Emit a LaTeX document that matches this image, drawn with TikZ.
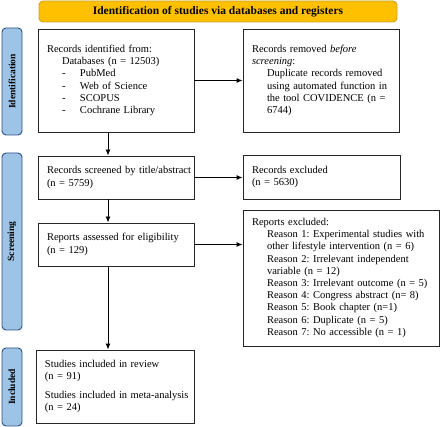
\documentclass[tikz,border=0pt]{standalone}
\usepackage{xcolor}
\usepackage{fontspec}
\setmainfont{Liberation Serif}
\usepackage{tikz}
\usetikzlibrary{arrows.meta}
\definecolor{BarFill}{HTML}{FFC000}
\definecolor{BarEdge}{HTML}{C9A227}
\definecolor{PhaseFill}{HTML}{9DC3E6}
\definecolor{PhaseEdge}{HTML}{2F4F7F}
\frenchspacing
\tikzset{
  recbox/.style={draw=black!85, line width=0.9pt, align=left, inner xsep=9pt, inner ysep=3pt, font=\fontsize{10.5}{12.2}\selectfont},
  phase/.style={draw=PhaseEdge, fill=PhaseFill, line width=0.9pt, rounded corners=4pt, rotate=90, minimum height=20pt, inner sep=0pt, font=\bfseries\fontsize{9.5}{11}\selectfont},
  flow/.style={line width=0.9pt, -{Latex[length=6pt,width=5pt]}}
}
\newcommand{\lines}[1]{\begin{tabular}{@{}l@{}}#1\end{tabular}}
\newcommand{\ind}{\hspace*{15pt}}
\newcommand{\itm}[1]{\hspace*{15pt}\makebox[18pt][l]{-}#1}

\begin{document}
\begin{tikzpicture}[x=1pt, y=-1pt]%
\useasboundingbox (0,0) rectangle (440,427);%
\node[draw=BarEdge, fill=BarFill, line width=0.9pt, rounded corners=4pt, minimum width=358pt, minimum height=21pt, inner sep=0pt, font=\bfseries\fontsize{11.5}{13}\selectfont] (bar) at (218, 11.5) {Identification of studies via databases and registers};%
\node[phase, minimum width=107pt] (idphase) at (12, 81.5) {Identification};%
\node[phase, minimum width=177pt] (scphase) at (12, 241.5) {Screening};%
\node[phase, minimum width=78pt] (inphase) at (12, 387) {Included};%
\node[recbox, text width=138pt, minimum height=103pt] (ident) at (116, 80.5) {\lines{Records identified from:\\
\ind Databases (n = 12503)\\
\itm{PubMed}\\
\itm{Web of Science}\\
\itm{SCOPUS}\\
\itm{Cochrane Library}}};%
\node[recbox, text width=138pt, minimum height=103pt] (removed) at (321, 80.5) {\lines{Records removed \textit{before}\\
\textit{screening}:\\
\ind Duplicate records removed\\
\ind using automated function in\\
\ind the tool COVIDENCE (n =\\
\ind 6744)}};%
\node[recbox, text width=138pt, minimum height=43pt] (screened) at (116, 177.5) {\lines{Records screened by title/abstract\\(n = 5759)}};%
\node[recbox, text width=139pt, minimum height=44pt] (excluded) at (321.5, 177) {\lines{Records excluded\\(n = 5630)}};%
\node[recbox, text width=138pt, minimum height=43pt] (assessed) at (116, 244.5) {\lines{Reports assessed for eligibility\\(n = 129)}};%
\node[recbox, text width=178pt, minimum height=136pt] (rptexcl) at (341, 278) {\lines{Reports excluded:\\
\ind Reason 1: Experimental studies with\\
\ind other lifestyle intervention (n = 6)\\
\ind Reason 2: Irrelevant independent\\
\ind variable (n = 12)\\
\ind Reason 3: Irrelevant outcome (n = 5)\\
\ind Reason 4: Congress abstract (n= 8)\\
\ind Reason 5: Book chapter (n=1)\\
\ind Reason 6: Duplicate (n = 5)\\
\ind Reason 7: No accessible (n = 1)}};%
\node[recbox, text width=140pt, minimum height=73pt] (included) at (115, 386.5) {\lines{Studies included in review\\(n = 91)\\[6pt]Studies included in meta-analysis\\(n = 24)}};%
\coordinate (spine) at (108, 0);%
\draw[flow] (ident.south -| spine) -- (screened.north -| spine);%
\draw[flow] (screened.south -| spine) -- (assessed.north -| spine);%
\draw[flow] (assessed.south -| spine) -- (included.north -| spine);%
\draw[flow] (ident.east) -- (removed.west);%
\draw[flow] (screened.east) -- (screened.east -| excluded.west);%
\draw[flow] (assessed.east) -- (assessed.east -| rptexcl.west);%
\end{tikzpicture}
\end{document}
